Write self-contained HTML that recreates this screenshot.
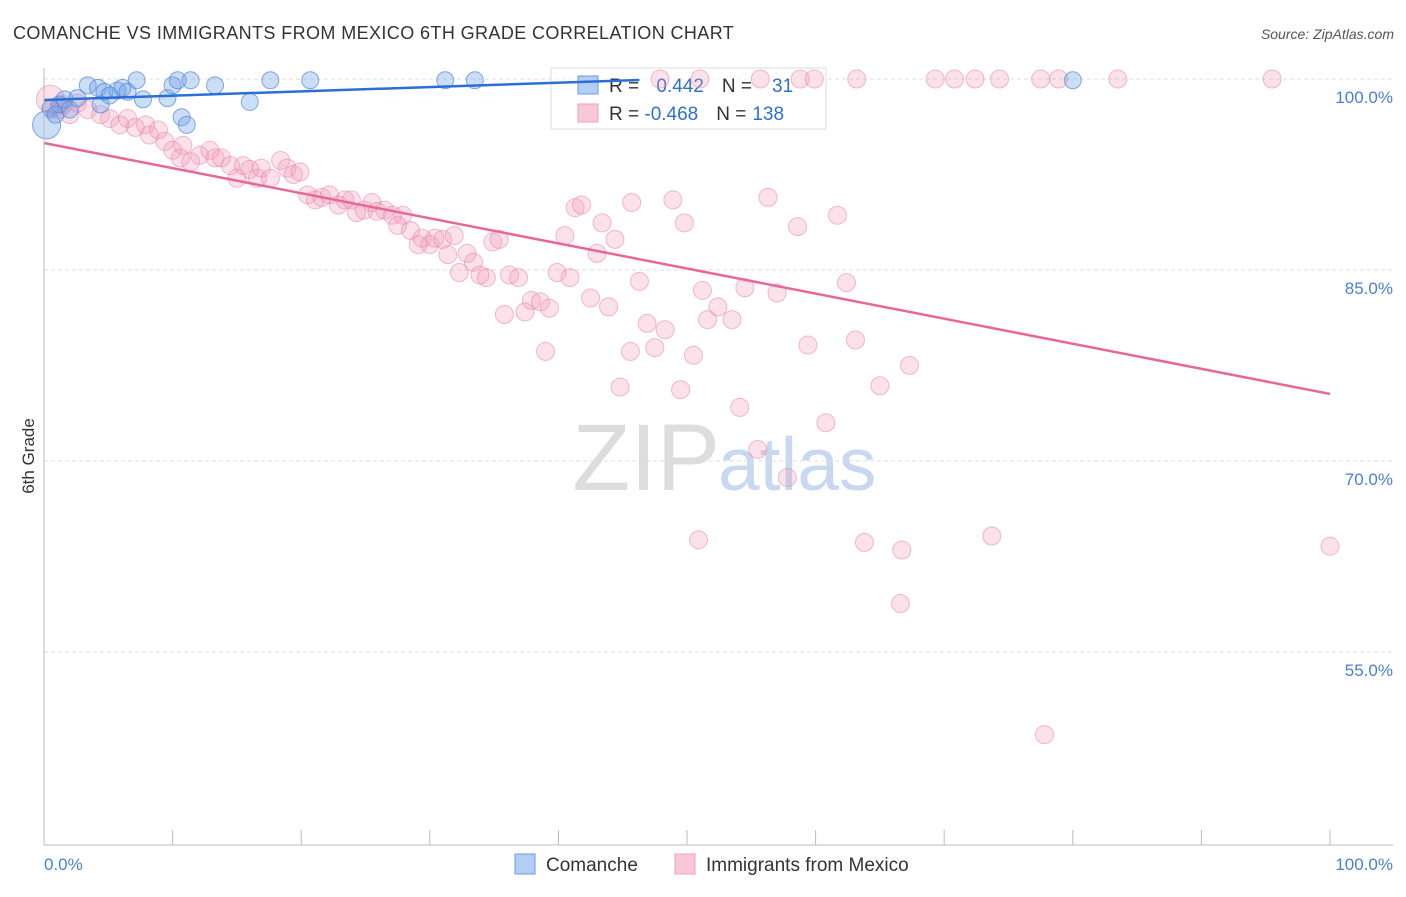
<!DOCTYPE html>
<html><head><meta charset="utf-8"><style>
body{margin:0;background:#fff;font-family:"Liberation Sans",sans-serif}
svg text{font-family:"Liberation Sans",sans-serif}
</style></head><body>
<svg id="c" width="1406" height="892">
<text x="13" y="39" font-size="18" letter-spacing="0.4" fill="#333">COMANCHE VS IMMIGRANTS FROM MEXICO 6TH GRADE CORRELATION CHART</text>
<text x="1394" y="39" font-size="14" fill="#555" font-style="italic" text-anchor="end">Source: ZipAtlas.com</text>
<text x="720" y="490" font-size="95" fill="#ddd" text-anchor="end" font-family="Liberation Serif">ZIP</text>
<text x="718" y="490" font-size="75" fill="#c8d8f0">atlas</text>
<text transform="translate(34,456) rotate(-90)" font-size="17" fill="#333" text-anchor="middle">6th Grade</text>
<g id="grid"></g>
<g>
<rect x="551" y="68" width="275" height="61" fill="#fff" fill-opacity="0.6" stroke="#ddd"/>
<rect x="578" y="76" width="20" height="18" fill="#b4cdf2" stroke="#6a9be0"/>
<rect x="578" y="104" width="20" height="18" fill="#f8c8d6" stroke="#f0a0b8"/>
<text x="609" y="92" font-size="19" fill="#333">R = <tspan fill="#2f6fd0" dx="12">0.442</tspan><tspan dx="18">N =</tspan><tspan fill="#2f6fd0" dx="20">31</tspan></text>
<text x="609" y="120" font-size="19" fill="#333">R = <tspan fill="#2f6fd0">-0.468</tspan><tspan dx="18">N =</tspan><tspan fill="#2f6fd0" dx="6">138</tspan></text>
</g>
<g id="pts"></g><g id="lines"></g>
<line x1="44" y1="68" x2="44" y2="845" stroke="#bbb"/>
<line x1="44" y1="845" x2="1393" y2="845" stroke="#bbb"/>
<text x="44" y="870" font-size="17" fill="#4a7fd4">0.0%</text>
<text x="1393" y="870" font-size="17" fill="#4a7fd4" text-anchor="end">100.0%</text>
<g>
<rect x="515" y="854" width="20" height="20" fill="#b4cdf2" stroke="#6a9be0"/>
<text x="546" y="871" font-size="19" fill="#333">Comanche</text>
<rect x="675" y="854" width="20" height="20" fill="#f8c8d6" stroke="#f0a0b8"/>
<text x="706" y="871" font-size="19" fill="#333">Immigrants from Mexico</text>
</g>
</svg>
<script>
const yTicks=[100,85,70,55];
const xTickVals=[0,10,20,30,40,50,60,70,80,90,100];
const blueX=[0.5,0.2,0.9,1.2,1.6,2.0,2.6,3.4,4.2,4.7,5.7,6.1,6.5,7.2,7.7,9.6,10.0,10.4,11.4,10.7,11.1,13.3,16.0,17.6,20.7,31.2,33.5,80.0,5.1,4.4];
const blueY=[97.7,96.4,97.2,98.0,98.4,97.6,98.5,99.5,99.3,99.0,99.1,99.3,99.0,99.9,98.4,98.5,99.5,99.9,99.9,97.0,96.4,99.5,98.2,99.9,99.9,99.9,99.9,99.9,98.7,98.0];
const pinkX=[0.5,1.2,2.0,2.6,3.4,4.4,5.1,5.9,6.5,7.1,7.9,8.2,8.9,9.4,10.0,10.6,10.8,11.4,12.1,12.9,13.3,13.8,14.5,15.0,15.5,16.0,16.6,16.9,17.6,18.4,18.9,19.4,19.9,20.5,21.1,21.6,22.2,22.9,23.4,23.9,24.3,24.9,25.5,25.9,26.5,27.1,27.5,27.9,28.5,29.1,29.4,30.0,30.4,31.0,31.4,31.9,32.3,32.9,33.4,33.9,34.4,34.9,35.4,35.8,36.2,36.9,37.4,37.9,38.6,39.0,39.3,39.9,40.5,40.9,41.3,41.8,42.5,43.0,43.4,43.9,44.4,44.8,45.6,45.7,46.3,46.9,47.5,48.3,48.9,49.5,49.8,50.5,50.9,51.2,51.6,52.4,53.5,54.1,54.5,55.5,56.3,57.0,57.8,58.6,59.4,60.8,61.7,62.4,63.1,63.8,65.0,66.6,66.7,67.3,73.7,77.8,100,47.9,51.0,55.7,58.8,59.9,63.2,69.3,70.8,72.4,74.3,77.5,78.9,83.5,95.5,0.6,1.5];
const pinkY=[98.4,97.6,97.2,98.1,97.6,97.2,96.9,96.4,96.9,96.2,96.4,95.6,96.0,95.1,94.4,93.8,94.8,93.5,94.0,94.4,93.8,93.8,93.2,92.2,93.2,92.9,92.2,93.0,92.2,93.6,93.0,92.5,92.7,90.9,90.5,90.7,90.9,90.1,90.5,90.5,89.5,89.7,90.3,89.6,89.7,89.3,88.5,89.3,88.1,87.0,87.5,87.0,87.5,87.4,86.2,87.7,84.8,86.3,85.6,84.6,84.4,87.2,87.4,81.5,84.6,84.4,81.7,82.6,82.5,78.6,82.0,84.8,87.7,84.4,89.9,90.1,82.8,86.3,88.7,82.1,87.4,75.8,78.6,90.3,84.1,80.8,78.9,80.3,90.5,75.6,88.7,78.3,63.8,83.4,81.1,82.1,81.1,74.2,83.6,70.9,90.7,83.2,68.7,88.4,79.1,73.0,89.3,84.0,79.5,63.6,75.9,58.8,63.0,77.5,64.1,48.5,63.3,100,100,100,100,100,100,100,100,100,100,100,100,100,100,97.6,98.0];
const blueLine=[98.35,99.92,46.3];
const pinkLine=[94.97,75.26];
const sx=v=>44+v*12.86, sy=v=>79+(100-v)*12.73;
const NS='http://www.w3.org/2000/svg';
const mk=(p,t,a)=>{const e=document.createElementNS(NS,t);for(const k in a)e.setAttribute(k,a[k]);document.getElementById(p).appendChild(e);return e;};
yTicks.forEach(v=>{
 const l=mk('grid','line',{x1:44,x2:1393,y1:sy(v),y2:sy(v),stroke:'#ddd','stroke-dasharray':'4,3'});
 
 
 const t=mk('grid','text',{x:1393,y:sy(v)+24,'font-size':17,fill:'#4a7fd4','text-anchor':'end'});
 t.textContent=v.toFixed(1)+'%';
 
 
});
xTickVals.forEach(v=>{
 const l=mk('grid','line',{x1:sx(v),x2:sx(v),y1:830,y2:845,stroke:'#bbb'});
 
 
});
pinkX.forEach((x,i)=>{
 const c=mk('pts','circle',{cx:sx(x),cy:sy(pinkY[i]),r:i==0?14:9,fill:'rgba(242,150,178,0.28)',stroke:'rgba(235,130,165,0.55)'});
 
 
});
blueX.forEach((x,i)=>{
 const c=mk('pts','circle',{cx:sx(x),cy:sy(blueY[i]),r:i==1?14:8.5,fill:'rgba(110,160,230,0.35)',stroke:'rgba(80,135,220,0.7)'});
 
 
});
const bl=mk('lines','line',{x1:sx(0),y1:sy(blueLine[0]),x2:sx(blueLine[2]),y2:sy(blueLine[1]),stroke:'#2a6fd6','stroke-width':2.5});


const pl=mk('lines','line',{x1:sx(0),y1:sy(pinkLine[0]),x2:sx(100),y2:sy(pinkLine[1]),stroke:'#e8679a','stroke-width':2.5});


</script>
</body></html>
